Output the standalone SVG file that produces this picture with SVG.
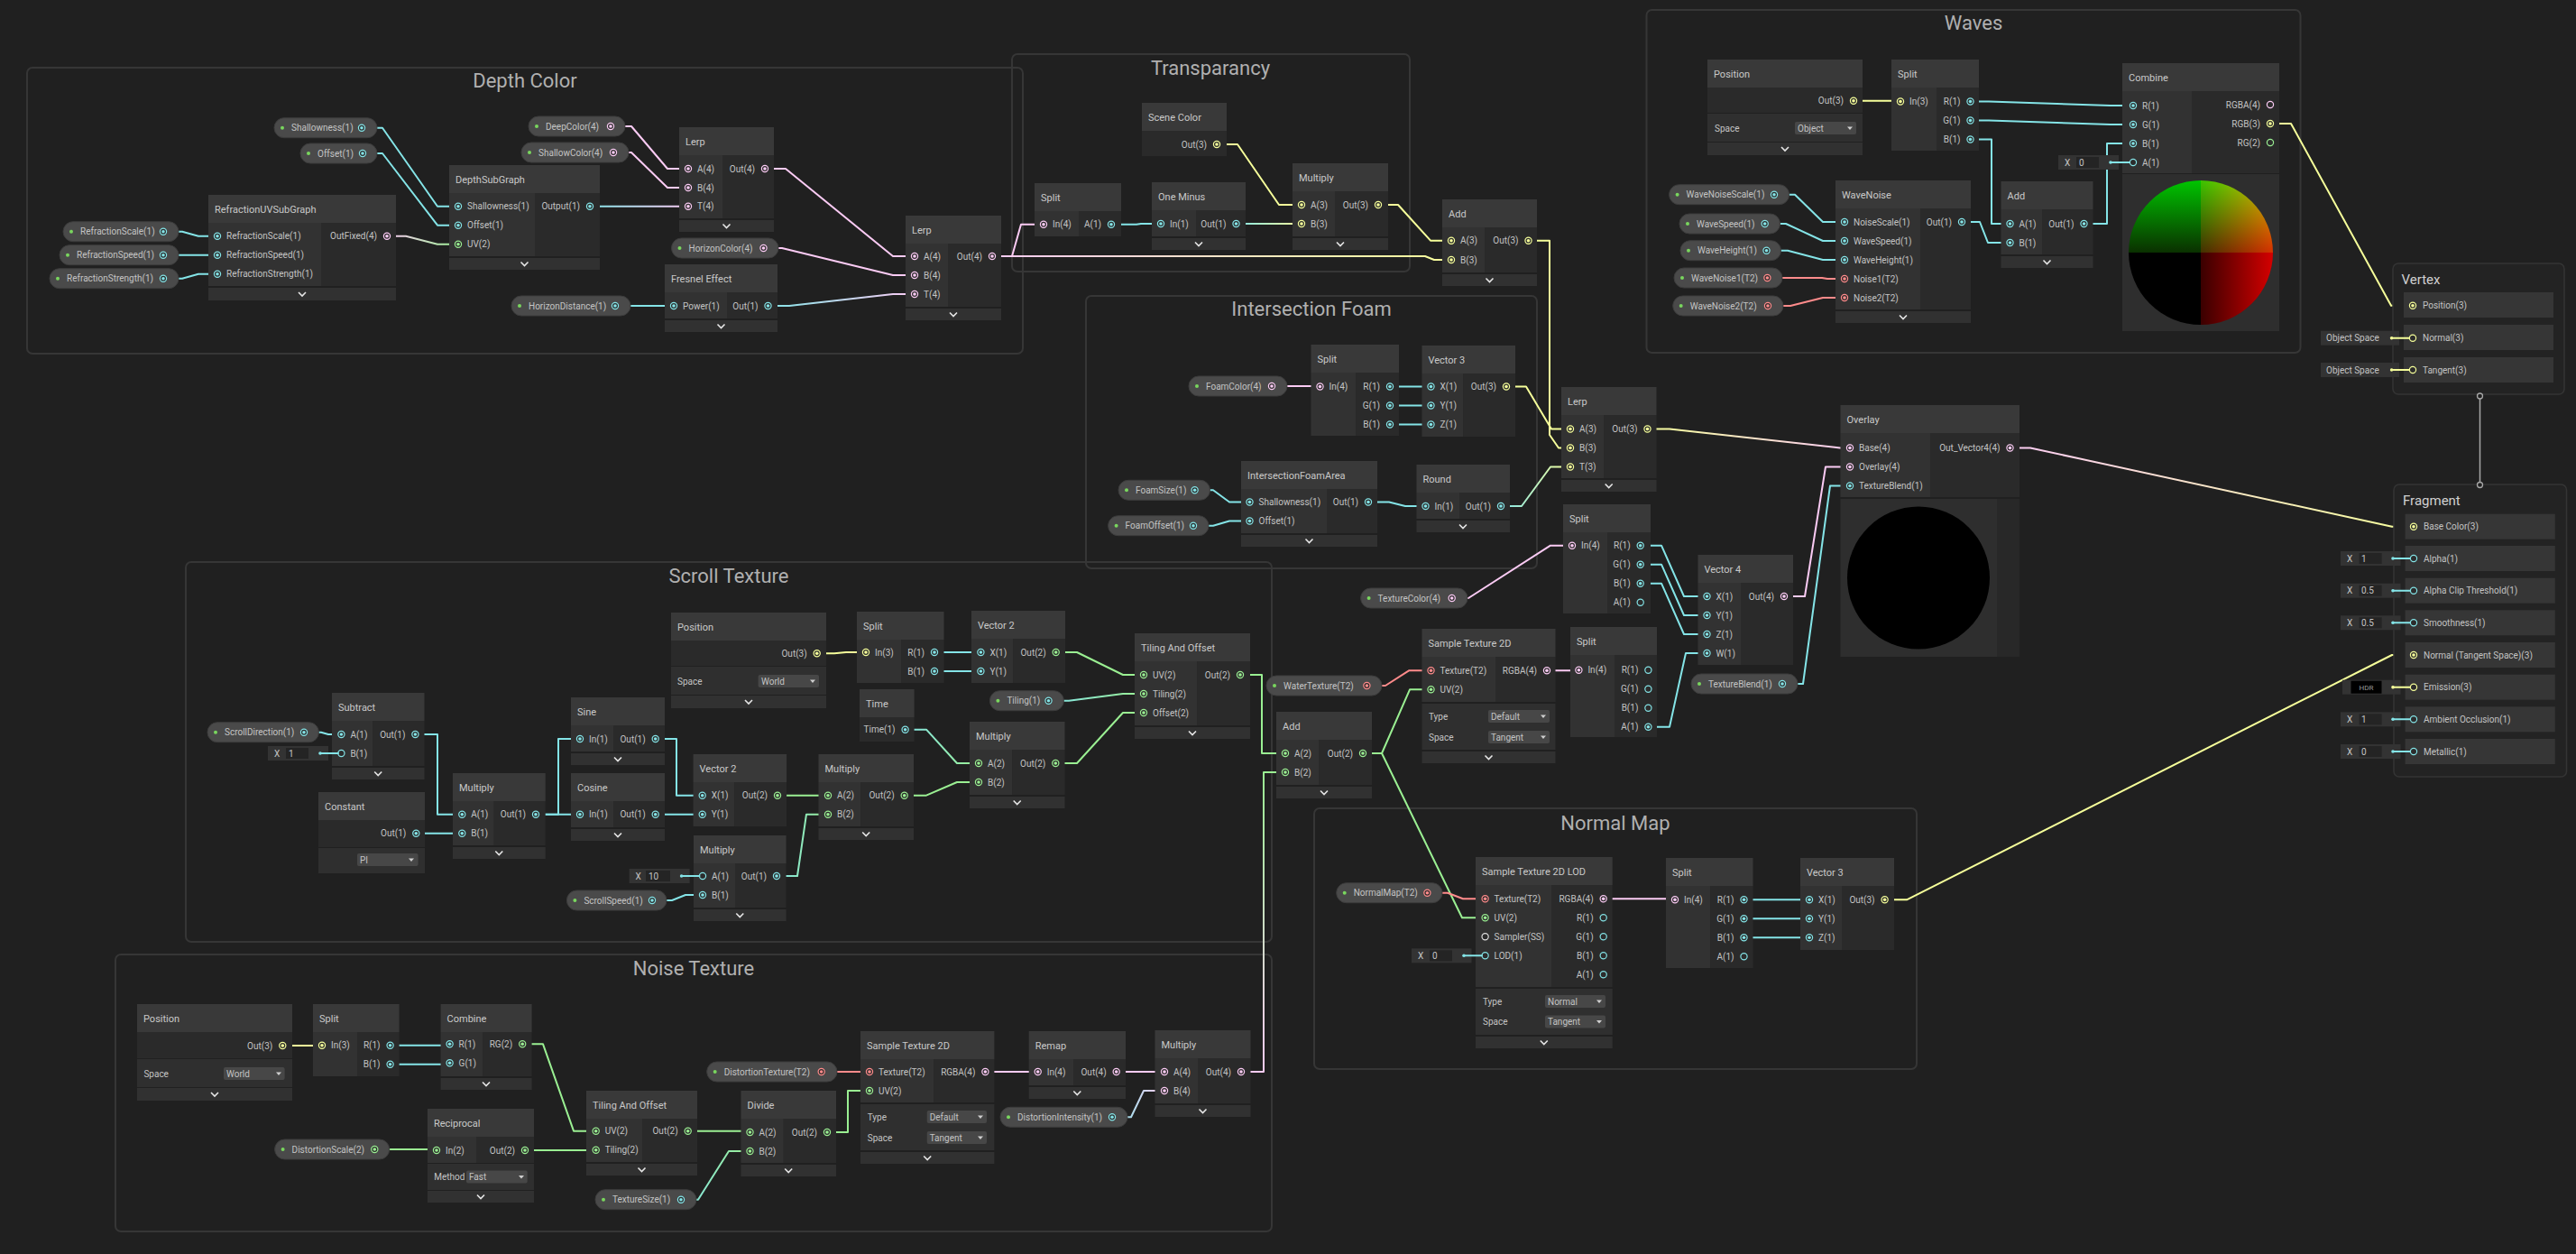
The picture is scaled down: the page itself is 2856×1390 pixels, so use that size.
<svg xmlns="http://www.w3.org/2000/svg" width="2856" height="1390" viewBox="0 0 2856 1390">
<defs>
<style>
text{font-family:Roboto,"Liberation Sans",sans-serif}
.t{font-size:11px;fill:#c9c9c9}
.p{font-size:10px;fill:#c4c4c4}
.e{text-anchor:end}
.ft{font-size:22px;fill:#b0b0b0;text-anchor:middle}
.bt{font-size:15px;fill:#d0d0d0}
.hd{fill:#393939}
.ic{fill:#323232}
.oc{fill:#2a2a2a}
.st{fill:#2f2f2f}
.cv{fill:#313131}
.pv{fill:#2e2e2e}
.pl{fill:#4a4a4a;stroke:#3c3c3c}
.dd{fill:#474747}
.bx{fill:#333}
.fd{fill:#242424}
.fr{fill:none;stroke:#363636;stroke-width:2}
.w{fill:none;stroke-width:2;stroke-linejoin:round;stroke-linecap:round}
.cy{stroke:#84E4E7}.gr{stroke:#9AEF92}.ye{stroke:#F6FF9A}.pk{stroke:#FBCBF4}.rd{stroke:#FF8B8B}
.blk{fill:#232323;stroke:#343434;stroke-width:1.5}
.row{fill:#363636}
</style>
<g id="fc"><circle r="3.6" fill="#2c2c2c" stroke="#84E4E7" stroke-width="1.2"/><circle r="1.8" fill="#84E4E7"/></g>
<g id="ec"><circle r="3.6" fill="#2c2c2c" stroke="#84E4E7" stroke-width="1.2"/></g>
<g id="fg"><circle r="3.6" fill="#2c2c2c" stroke="#9AEF92" stroke-width="1.2"/><circle r="1.8" fill="#9AEF92"/></g>
<g id="eg"><circle r="3.6" fill="#2c2c2c" stroke="#9AEF92" stroke-width="1.2"/></g>
<g id="fy"><circle r="3.6" fill="#2c2c2c" stroke="#F6FF9A" stroke-width="1.2"/><circle r="1.8" fill="#F6FF9A"/></g>
<g id="ey"><circle r="3.6" fill="#2c2c2c" stroke="#F6FF9A" stroke-width="1.2"/></g>
<g id="fp"><circle r="3.6" fill="#2c2c2c" stroke="#FBCBF4" stroke-width="1.2"/><circle r="1.8" fill="#FBCBF4"/></g>
<g id="ep"><circle r="3.6" fill="#2c2c2c" stroke="#FBCBF4" stroke-width="1.2"/></g>
<g id="fr"><circle r="3.6" fill="#2c2c2c" stroke="#FF8B8B" stroke-width="1.2"/><circle r="1.8" fill="#FF8B8B"/></g>
<g id="ew"><circle r="3.6" fill="#2c2c2c" stroke="#e0e0e0" stroke-width="1.2"/></g>
<circle id="gd" r="2" fill="#79d65e"/>
<path id="chev" d="M-4 -2 L0 2 L4 -2" fill="none" stroke="#e6e6e6" stroke-width="1.6"/>
<path id="tri" d="M-3 -1.5 H3 L0 2 Z" fill="#cfcfcf"/>
<linearGradient id="gA" gradientUnits="userSpaceOnUse" x1="429" y1="0" x2="508" y2="0"><stop offset="0" stop-color="#FBCBF4"/><stop offset="1" stop-color="#9AEF92"/></linearGradient>
<linearGradient id="gB" gradientUnits="userSpaceOnUse" x1="654" y1="0" x2="763" y2="0"><stop offset="0" stop-color="#84E4E7"/><stop offset="1" stop-color="#FBCBF4"/></linearGradient>
<linearGradient id="gC" gradientUnits="userSpaceOnUse" x1="851" y1="0" x2="1014" y2="0"><stop offset="0" stop-color="#84E4E7"/><stop offset="1" stop-color="#FBCBF4"/></linearGradient>
<linearGradient id="gD" gradientUnits="userSpaceOnUse" x1="1100" y1="0" x2="1609" y2="0"><stop offset="0" stop-color="#FBCBF4"/><stop offset="1" stop-color="#F6FF9A"/></linearGradient>
<linearGradient id="gE" gradientUnits="userSpaceOnUse" x1="1370" y1="0" x2="1443" y2="0"><stop offset="0" stop-color="#84E4E7"/><stop offset="1" stop-color="#F6FF9A"/></linearGradient>
<linearGradient id="gF" gradientUnits="userSpaceOnUse" x1="1664" y1="0" x2="1741" y2="0"><stop offset="0" stop-color="#84E4E7"/><stop offset="1" stop-color="#F6FF9A"/></linearGradient>
<linearGradient id="gG" gradientUnits="userSpaceOnUse" x1="1826" y1="0" x2="2051" y2="0"><stop offset="0" stop-color="#F6FF9A"/><stop offset="1" stop-color="#FBCBF4"/></linearGradient>
<linearGradient id="gH" gradientUnits="userSpaceOnUse" x1="2228" y1="0" x2="2676" y2="0"><stop offset="0" stop-color="#FBCBF4"/><stop offset="1" stop-color="#F6FF9A"/></linearGradient>
<linearGradient id="gI" gradientUnits="userSpaceOnUse" x1="1162" y1="0" x2="1268" y2="0"><stop offset="0" stop-color="#84E4E7"/><stop offset="1" stop-color="#9AEF92"/></linearGradient>
<linearGradient id="gJ" gradientUnits="userSpaceOnUse" x1="1003" y1="0" x2="1085" y2="0"><stop offset="0" stop-color="#84E4E7"/><stop offset="1" stop-color="#9AEF92"/></linearGradient>
<linearGradient id="gK" gradientUnits="userSpaceOnUse" x1="861" y1="0" x2="918" y2="0"><stop offset="0" stop-color="#84E4E7"/><stop offset="1" stop-color="#9AEF92"/></linearGradient>
<linearGradient id="gL" gradientUnits="userSpaceOnUse" x1="755" y1="0" x2="831" y2="0"><stop offset="0" stop-color="#84E4E7"/><stop offset="1" stop-color="#9AEF92"/></linearGradient>
<linearGradient id="gM" gradientUnits="userSpaceOnUse" x1="0" y1="1188" x2="0" y2="856"><stop offset="0" stop-color="#FBCBF4"/><stop offset="1" stop-color="#9AEF92"/></linearGradient>
<linearGradient id="gN" gradientUnits="userSpaceOnUse" x1="1233" y1="0" x2="1291" y2="0"><stop offset="0" stop-color="#84E4E7"/><stop offset="1" stop-color="#FBCBF4"/></linearGradient>
<linearGradient id="pvG" x1="0" y1="0" x2="0" y2="1"><stop offset="0" stop-color="#00c400"/><stop offset="1" stop-color="#0a3000"/></linearGradient>
<linearGradient id="pvR" x1="0" y1="0" x2="1" y2="0"><stop offset="0" stop-color="#3a0000"/><stop offset="1" stop-color="#d40000"/></linearGradient>
<clipPath id="cpC"><circle cx="2440" cy="280" r="80"/></clipPath>
</defs>
<rect x="0" y="0" width="2856" height="1390" fill="#202020"/>

<g id="frames">
<g id="frame-depth-color"><rect class="fr" x="30" y="75" width="1104" height="317" rx="6"/><text class="ft" x="582" y="97">Depth Color</text></g>
<g id="frame-transparancy"><rect class="fr" x="1122" y="60" width="441" height="241" rx="6"/><text class="ft" x="1342" y="83">Transparancy</text></g>
<g id="frame-waves"><rect class="fr" x="1825.5" y="11" width="725" height="380" rx="6"/><text class="ft" x="2188" y="33">Waves</text></g>
<g id="frame-intersection-foam"><rect class="fr" x="1204" y="328" width="500" height="302" rx="6"/><text class="ft" x="1454" y="350">Intersection Foam</text></g>
<g id="frame-scroll-texture"><rect class="fr" x="206" y="623" width="1204" height="421" rx="6"/><text class="ft" x="808" y="646">Scroll Texture</text></g>
<g id="frame-noise-texture"><rect class="fr" x="128" y="1058" width="1282" height="307" rx="6"/><text class="ft" x="769" y="1081">Noise Texture</text></g>
<g id="frame-normal-map"><rect class="fr" x="1457" y="896" width="668" height="289" rx="6"/><text class="ft" x="1791" y="920">Normal Map</text></g>
</g>

<g id="connectors">
<path class="w cy" d="M401 141.7 H424 L485 228.7 H508"/>
<path class="w cy" d="M402 170 H424 L485 249.7 H508"/>
<path class="w cy" d="M181 256.7 H202 L220 261.7 H241"/>
<path class="w cy" d="M181 282.7 H241"/>
<path class="w cy" d="M181 308.7 H202 L220 303.7 H241"/>
<path class="w" stroke="url(#gA)" d="M429 261.7 H450 L485 270.7 H508"/>
<path class="w pk" d="M677 140 H700 L740 187 H763"/>
<path class="w pk" d="M680 169 H700 L740 208 H763"/>
<path class="w" stroke="url(#gB)" d="M654 228.7 H763"/>
<path class="w cy" d="M682 339 H747"/>
<path class="w pk" d="M848 187 H871 L990 284 H1014"/>
<path class="w pk" d="M846.5 275 H867 L990 305 H1014"/>
<path class="w" stroke="url(#gC)" d="M851.5 339 H875 L990 326 H1014"/>
<path class="w pk" d="M1100 284 H1122 L1132 248.7 H1157"/>
<path class="w" stroke="url(#gD)" d="M1100 284 H1580 L1590 288 H1609"/>
<path class="w cy" d="M1232 248.7 H1260 L1265 248 H1287"/>
<path class="w" stroke="url(#gE)" d="M1370.5 248 H1443"/>
<path class="w ye" d="M1349 160 H1372 L1418 227 H1443"/>
<path class="w ye" d="M1528 227 H1550 L1586 266.7 H1609"/>
<path class="w ye" d="M1694.5 266.7 H1718 V482 L1728 496.5 H1741"/>
<path class="w ye" d="M1670 428.5 H1692 L1720 475.5 H1741"/>
<path class="w" stroke="url(#gF)" d="M1664 561 H1687 L1719 517.5 H1741"/>
<path class="w pk" d="M1410 428 H1463.5"/>
<path class="w cy" d="M1541 428.5 H1586.5"/>
<path class="w cy" d="M1541 449.5 H1586.5"/>
<path class="w cy" d="M1541 470.5 H1586.5"/>
<path class="w cy" d="M1324.6 543.3 H1345 L1363 556.5 H1385.5"/>
<path class="w cy" d="M1323 582.7 H1345 L1363 577.5 H1385.5"/>
<path class="w cy" d="M1517 556.5 H1540 L1558 561 H1580.5"/>
<path class="w" stroke="url(#gG)" d="M1826.5 475.5 H1851 L2040 496.5 H2051"/>
<path class="w pk" d="M1978 661 H2001 L2024 517.5 H2051"/>
<path class="w cy" d="M1976 758 H1999 L2029 538.5 H2051"/>
<path class="w pk" d="M1609.7 663 H1628 L1719 604.7 H1743"/>
<path class="w cy" d="M1818.7 604.7 H1842 L1867 661 H1892.5"/>
<path class="w cy" d="M1818.7 625.7 H1842 L1867 682 H1892.5"/>
<path class="w cy" d="M1818.7 646.7 H1842 L1867 703 H1892.5"/>
<path class="w cy" d="M1827.4 805.7 H1851 L1869 724 H1892.5"/>
<path class="w rd" d="M1515.4 760 H1536 L1562 743.3 H1586.5"/>
<path class="w pk" d="M1715 743.3 H1750.4"/>
<path class="w gr" d="M1511 835 H1532 L1563 764.3 H1586.5"/>
<path class="w gr" d="M1511 835 H1532 L1621 1017.3 H1646.6"/>
<path class="w" stroke="url(#gH)" d="M2228.5 496.5 H2251 L2652 583.7 H2676"/>
<path class="w ye" d="M2055 111.7 H2107"/>
<path class="w cy" d="M2184.5 112.5 H2205 L2340 117 H2365"/>
<path class="w cy" d="M2184.5 133.5 H2205 L2340 138 H2365"/>
<path class="w cy" d="M2184.5 154.5 H2208 V248 H2228.5"/>
<path class="w cy" d="M2175 246 H2195 L2204 269 H2228.5"/>
<path class="w cy" d="M2310.5 248 H2336 V159 H2365"/>
<path class="w ye" d="M2517 137 H2540 L2651 338.7 H2675"/>
<path class="w cy" d="M1967 215.7 H1990 L2021 246 H2045"/>
<path class="w cy" d="M1956.7 248 H1980 L2021 267 H2045"/>
<path class="w cy" d="M1958.5 277.7 H1982 L2021 288 H2045"/>
<path class="w rd" d="M1959.4 308 H2020 L2026 309 H2045"/>
<path class="w rd" d="M1960 339 H1985 L2021 330 H2045"/>
<path class="w ye" d="M905.7 724.3 H925 L938 723 H960"/>
<path class="w cy" d="M1036 723 H1087.4"/>
<path class="w cy" d="M1036 744 H1087.4"/>
<path class="w gr" d="M1170.7 723 H1194 L1245 748 H1268"/>
<path class="w" stroke="url(#gI)" d="M1162.5 776.7 H1185 L1245 769 H1268"/>
<path class="w gr" d="M1170.3 846 H1194 L1245 790 H1268"/>
<path class="w" stroke="url(#gJ)" d="M1003.6 808.7 H1027 L1061 846 H1085"/>
<path class="w gr" d="M1002.7 881.7 H1027 L1061 867 H1085"/>
<path class="w gr" d="M862 881.7 H918"/>
<path class="w" stroke="url(#gK)" d="M861 971 H884 L894 902.7 H918"/>
<path class="w cy" d="M723 998 H745 L760 992 H779"/>
<path class="w cy" d="M726.7 819 H750 V881.7 H778.7"/>
<path class="w cy" d="M726.7 902.7 H778.7"/>
<path class="w cy" d="M460.4 814 H485 V902.7 H512.3"/>
<path class="w cy" d="M461.3 923.7 H512.3"/>
<path class="w cy" d="M337 811.7 H356 L364 814 H378.4"/>
<path class="w cy" d="M594 902.7 H619 V819 H643"/>
<path class="w cy" d="M594 902.7 H643"/>
<path class="w gr" d="M1375 748 H1399 V835 H1425"/>
<path class="w" stroke="url(#gM)" d="M1376 1188 H1401 V856 H1425"/>
<path class="w ye" d="M313.3 1159 H357"/>
<path class="w cy" d="M432.6 1158.7 H498.6"/>
<path class="w cy" d="M432.6 1179.7 H498.6"/>
<path class="w gr" d="M579.2 1157.3 H602 L636 1253.7 H660.7"/>
<path class="w gr" d="M415.3 1274 H484"/>
<path class="w gr" d="M582 1275 H660.7"/>
<path class="w gr" d="M762.7 1253.7 H831.5"/>
<path class="w" stroke="url(#gL)" d="M755 1329.7 H774 L808 1276 H831.5"/>
<path class="w gr" d="M917 1255 H940 V1209 H964"/>
<path class="w rd" d="M910.7 1188 H964"/>
<path class="w pk" d="M1092.4 1188 H1150.7"/>
<path class="w pk" d="M1237.7 1188 H1291"/>
<path class="w" stroke="url(#gN)" d="M1233 1238.3 H1254 L1268 1209 H1291"/>
<path class="w rd" d="M1582.4 989.7 H1605 L1622 996.3 H1646.6"/>
<path class="w pk" d="M1777.7 996.3 H1857"/>
<path class="w cy" d="M1933.5 997.3 H2006"/>
<path class="w cy" d="M1933.5 1018.3 H2006"/>
<path class="w cy" d="M1933.5 1039.3 H2006"/>
<path class="w ye" d="M2089.6 997.3 H2114 L2652 726 H2676"/>
<path d="M2749.5 441 V535" stroke="#a8a8a8" stroke-width="1.5" fill="none"/>
</g>

<!-- Depth Color -->
<g id="prop-shallowness"><rect class="pl" x="304" y="130.7" width="114" height="22" rx="11"/><use href="#gd" x="313" y="141.7"/><text class="p" x="323" y="145.2">Shallowness(1)</text><use href="#fc" x="401" y="141.7"/></g>
<g id="prop-offset"><rect class="pl" x="333" y="159" width="85" height="22" rx="11"/><use href="#gd" x="342" y="170"/><text class="p" x="352" y="173.5">Offset(1)</text><use href="#fc" x="402" y="170"/></g>
<g id="prop-deepcolor"><rect class="pl" x="586" y="129" width="107" height="22" rx="11"/><use href="#gd" x="595" y="140"/><text class="p" x="605" y="143.5">DeepColor(4)</text><use href="#fp" x="677" y="140"/></g>
<g id="prop-shallowcolor"><rect class="pl" x="578" y="158" width="119" height="22" rx="11"/><use href="#gd" x="587" y="169"/><text class="p" x="597" y="172.5">ShallowColor(4)</text><use href="#fp" x="680" y="169"/></g>
<g id="prop-refractionscale"><rect class="pl" x="70" y="245.7" width="128" height="22" rx="11"/><use href="#gd" x="79" y="256.7"/><text class="p" x="89" y="260.2">RefractionScale(1)</text><use href="#fc" x="181" y="256.7"/></g>
<g id="prop-refractionspeed"><rect class="pl" x="66" y="271.7" width="132" height="22" rx="11"/><use href="#gd" x="75" y="282.7"/><text class="p" x="85" y="286.2">RefractionSpeed(1)</text><use href="#fc" x="181" y="282.7"/></g>
<g id="prop-refractionstrength"><rect class="pl" x="55" y="297.7" width="143" height="22" rx="11"/><use href="#gd" x="64" y="308.7"/><text class="p" x="74" y="312.2">RefractionStrength(1)</text><use href="#fc" x="181" y="308.7"/></g>
<g id="prop-horizondistance"><rect class="pl" x="567" y="328" width="132" height="22" rx="11"/><use href="#gd" x="576" y="339"/><text class="p" x="586" y="342.5">HorizonDistance(1)</text><use href="#fc" x="682" y="339"/></g>
<g id="prop-horizoncolor"><rect class="pl" x="744.5" y="264" width="118.5" height="22" rx="11"/><use href="#gd" x="753.5" y="275"/><text class="p" x="763.5" y="278.5">HorizonColor(4)</text><use href="#fp" x="846.5" y="275"/></g>

<g id="node-refraction-uv">
<rect class="hd" x="231" y="216" width="208" height="31"/><rect class="ic" x="231" y="247" width="125" height="70"/><rect class="oc" x="356" y="247" width="83" height="70"/><rect class="cv" x="231" y="319" width="208" height="14"/><use href="#chev" x="335" y="326"/>
<text class="t" x="238" y="235.5">RefractionUVSubGraph</text>
<use href="#fc" x="241" y="261.7"/><text class="p" x="251" y="265.2">RefractionScale(1)</text>
<use href="#fc" x="241" y="282.7"/><text class="p" x="251" y="286.2">RefractionSpeed(1)</text>
<use href="#fc" x="241" y="303.7"/><text class="p" x="251" y="307.2">RefractionStrength(1)</text>
<use href="#fp" x="429" y="261.7"/><text class="p e" x="418" y="265.2">OutFixed(4)</text>
</g>
<g id="node-depth-subgraph">
<rect class="hd" x="498" y="183" width="167" height="31"/><rect class="ic" x="498" y="214" width="95" height="70"/><rect class="oc" x="593" y="214" width="72" height="70"/><rect class="cv" x="498" y="286" width="167" height="13"/><use href="#chev" x="581.5" y="292.5"/>
<text class="t" x="505" y="202.5">DepthSubGraph</text>
<use href="#fc" x="508" y="228.7"/><text class="p" x="518" y="232.2">Shallowness(1)</text>
<use href="#fc" x="508" y="249.7"/><text class="p" x="518" y="253.2">Offset(1)</text>
<use href="#fg" x="508" y="270.7"/><text class="p" x="518" y="274.2">UV(2)</text>
<use href="#fc" x="654" y="228.7"/><text class="p e" x="643" y="232.2">Output(1)</text>
</g>
<g id="node-lerp-1">
<rect class="hd" x="753" y="141" width="105" height="31"/><rect class="ic" x="753" y="172" width="48" height="70"/><rect class="oc" x="801" y="172" width="57" height="70"/><rect class="cv" x="753" y="244" width="105" height="13"/><use href="#chev" x="805.5" y="250.5"/>
<text class="t" x="760" y="160.5">Lerp</text>
<use href="#fp" x="763" y="187"/><text class="p" x="773" y="190.5">A(4)</text>
<use href="#fp" x="763" y="208"/><text class="p" x="773" y="211.5">B(4)</text>
<use href="#fp" x="763" y="228.7"/><text class="p" x="773" y="232.2">T(4)</text>
<use href="#fp" x="848" y="187"/><text class="p e" x="837" y="190.5">Out(4)</text>
</g>
<g id="node-fresnel">
<rect class="hd" x="737" y="293" width="125" height="31"/><rect class="ic" x="737" y="324" width="69" height="29"/><rect class="oc" x="806" y="324" width="56" height="29"/><rect class="cv" x="737" y="355" width="125" height="13"/><use href="#chev" x="799.5" y="361.5"/>
<text class="t" x="744" y="312.5">Fresnel Effect</text>
<use href="#fc" x="747" y="339"/><text class="p" x="757" y="342.5">Power(1)</text>
<use href="#fc" x="851.5" y="339"/><text class="p e" x="840.5" y="342.5">Out(1)</text>
</g>
<g id="node-lerp-2">
<rect class="hd" x="1004" y="239" width="106" height="31"/><rect class="ic" x="1004" y="270" width="47" height="70"/><rect class="oc" x="1051" y="270" width="59" height="70"/><rect class="cv" x="1004" y="342" width="106" height="13"/><use href="#chev" x="1057" y="348.5"/>
<text class="t" x="1011" y="258.5">Lerp</text>
<use href="#fp" x="1014" y="284"/><text class="p" x="1024" y="287.5">A(4)</text>
<use href="#fp" x="1014" y="305"/><text class="p" x="1024" y="308.5">B(4)</text>
<use href="#fp" x="1014" y="326"/><text class="p" x="1024" y="329.5">T(4)</text>
<use href="#fp" x="1100" y="284"/><text class="p e" x="1089" y="287.5">Out(4)</text>
</g>

<!-- Transparancy -->
<g id="node-split-transp">
<rect class="hd" x="1147" y="203" width="96" height="31"/><rect class="ic" x="1147" y="234" width="49" height="28"/><rect class="oc" x="1196" y="234" width="47" height="28"/>
<text class="t" x="1154" y="222.5">Split</text>
<use href="#fp" x="1157" y="248.7"/><text class="p" x="1167" y="252.2">In(4)</text>
<use href="#fc" x="1232" y="248.7"/><text class="p e" x="1221" y="252.2">A(1)</text>
</g>
<g id="node-one-minus">
<rect class="hd" x="1277" y="202" width="104" height="31"/><rect class="ic" x="1277" y="233" width="49" height="29"/><rect class="oc" x="1326" y="233" width="55" height="29"/><rect class="cv" x="1277" y="264" width="104" height="13"/><use href="#chev" x="1329" y="270.5"/>
<text class="t" x="1284" y="221.5">One Minus</text>
<use href="#fc" x="1287" y="248"/><text class="p" x="1297" y="251.5">In(1)</text>
<use href="#fc" x="1370.5" y="248"/><text class="p e" x="1359.5" y="251.5">Out(1)</text>
</g>
<g id="node-scene-color">
<rect class="hd" x="1266" y="114" width="94" height="31"/><rect class="oc" x="1266" y="145" width="94" height="28"/>
<text class="t" x="1273" y="133.5">Scene Color</text>
<use href="#fy" x="1349" y="160"/><text class="p e" x="1338" y="163.5">Out(3)</text>
</g>
<g id="node-multiply-transp">
<rect class="hd" x="1433" y="181" width="106" height="31"/><rect class="ic" x="1433" y="212" width="47" height="50"/><rect class="oc" x="1480" y="212" width="59" height="50"/><rect class="cv" x="1433" y="264" width="106" height="13"/><use href="#chev" x="1486" y="270.5"/>
<text class="t" x="1440" y="200.5">Multiply</text>
<use href="#fy" x="1443" y="227"/><text class="p" x="1453" y="230.5">A(3)</text>
<use href="#fy" x="1443" y="248"/><text class="p" x="1453" y="251.5">B(3)</text>
<use href="#fy" x="1528" y="227"/><text class="p e" x="1517" y="230.5">Out(3)</text>
</g>
<g id="node-add-transp">
<rect class="hd" x="1599" y="221" width="105" height="31"/><rect class="ic" x="1599" y="252" width="47" height="50"/><rect class="oc" x="1646" y="252" width="58" height="50"/><rect class="cv" x="1599" y="304" width="105" height="13"/><use href="#chev" x="1651.5" y="310.5"/>
<text class="t" x="1606" y="240.5">Add</text>
<use href="#fy" x="1609" y="266.7"/><text class="p" x="1619" y="270.2">A(3)</text>
<use href="#fy" x="1609" y="288"/><text class="p" x="1619" y="291.5">B(3)</text>
<use href="#fy" x="1694.5" y="266.7"/><text class="p e" x="1683.5" y="270.2">Out(3)</text>
</g>

<!-- Waves -->
<g id="node-position-waves">
<rect class="hd" x="1893" y="66" width="172" height="31"/><rect class="oc" x="1893" y="97" width="172" height="28"/><rect class="st" x="1893" y="126" width="172" height="31"/><rect class="cv" x="1893" y="158" width="172" height="14"/><use href="#chev" x="1979" y="165"/>
<text class="t" x="1900" y="85.5">Position</text>
<use href="#fy" x="2055" y="111.7"/><text class="p e" x="2044" y="115.2">Out(3)</text>
<text class="p" x="1901" y="145.5">Space</text>
<rect class="dd" x="1990" y="135" width="68" height="14" rx="2"/><text class="p" x="1993" y="145.5">Object</text><use href="#tri" x="2051" y="142"/>
</g>
<g id="node-split-waves">
<rect class="hd" x="2097" y="66" width="97" height="31"/><rect class="ic" x="2097" y="97" width="50" height="70"/><rect class="oc" x="2147" y="97" width="47" height="70"/>
<text class="t" x="2104" y="85.5">Split</text>
<use href="#fy" x="2107" y="112.5"/><text class="p" x="2117" y="116">In(3)</text>
<use href="#fc" x="2184.5" y="112.5"/><text class="p e" x="2173.5" y="116">R(1)</text>
<use href="#fc" x="2184.5" y="133.5"/><text class="p e" x="2173.5" y="137">G(1)</text>
<use href="#fc" x="2184.5" y="154.5"/><text class="p e" x="2173.5" y="158">B(1)</text>
</g>
<g id="prop-wavenoisescale"><rect class="pl" x="1850.6" y="204.7" width="133" height="22" rx="11"/><use href="#gd" x="1859.6" y="215.7"/><text class="p" x="1869.6" y="219.2">WaveNoiseScale(1)</text><use href="#fc" x="1967" y="215.7"/></g>
<g id="prop-wavespeed"><rect class="pl" x="1862" y="237" width="111.5" height="22" rx="11"/><use href="#gd" x="1871" y="248"/><text class="p" x="1881" y="251.5">WaveSpeed(1)</text><use href="#fc" x="1956.7" y="248"/></g>
<g id="prop-waveheight"><rect class="pl" x="1863" y="266.7" width="111.5" height="22" rx="11"/><use href="#gd" x="1872" y="277.7"/><text class="p" x="1882" y="281.2">WaveHeight(1)</text><use href="#fc" x="1958.5" y="277.7"/></g>
<g id="prop-wavenoise1"><rect class="pl" x="1856" y="297" width="120" height="22" rx="11"/><use href="#gd" x="1865" y="308"/><text class="p" x="1875" y="311.5">WaveNoise1(T2)</text><use href="#fr" x="1959.4" y="308"/></g>
<g id="prop-wavenoise2"><rect class="pl" x="1854.7" y="328" width="122.3" height="22" rx="11"/><use href="#gd" x="1863.7" y="339"/><text class="p" x="1873.7" y="342.5">WaveNoise2(T2)</text><use href="#fr" x="1960" y="339"/></g>
<g id="node-wavenoise">
<rect class="hd" x="2035" y="200" width="150" height="31"/><rect class="ic" x="2035" y="231" width="94" height="112"/><rect class="oc" x="2129" y="231" width="56" height="112"/><rect class="cv" x="2035" y="345" width="150" height="13"/><use href="#chev" x="2110" y="351.5"/>
<text class="t" x="2042" y="219.5">WaveNoise</text>
<use href="#fc" x="2045" y="246"/><text class="p" x="2055" y="249.5">NoiseScale(1)</text>
<use href="#fc" x="2045" y="267"/><text class="p" x="2055" y="270.5">WaveSpeed(1)</text>
<use href="#fc" x="2045" y="288"/><text class="p" x="2055" y="291.5">WaveHeight(1)</text>
<use href="#fr" x="2045" y="309"/><text class="p" x="2055" y="312.5">Noise1(T2)</text>
<use href="#fr" x="2045" y="330"/><text class="p" x="2055" y="333.5">Noise2(T2)</text>
<use href="#fc" x="2175" y="246"/><text class="p e" x="2164" y="249.5">Out(1)</text>
</g>
<g id="node-add-waves">
<rect class="hd" x="2218.5" y="201" width="102" height="31"/><rect class="ic" x="2218.5" y="232" width="45.5" height="50"/><rect class="oc" x="2264" y="232" width="56.5" height="50"/><rect class="cv" x="2218.5" y="284" width="102" height="13"/><use href="#chev" x="2269.5" y="290.5"/>
<text class="t" x="2225.5" y="220.5">Add</text>
<use href="#fc" x="2228.5" y="248"/><text class="p" x="2238.5" y="251.5">A(1)</text>
<use href="#fc" x="2228.5" y="269"/><text class="p" x="2238.5" y="272.5">B(1)</text>
<use href="#fc" x="2310.5" y="248"/><text class="p e" x="2299.5" y="251.5">Out(1)</text>
</g>
<g id="node-combine-waves">
<rect class="hd" x="2353" y="70" width="174" height="31"/><rect class="ic" x="2353" y="101" width="77" height="91"/><rect class="oc" x="2430" y="101" width="97" height="91"/><rect class="pv" x="2353" y="193" width="174" height="174"/>
<text class="t" x="2360" y="89.5">Combine</text>
<use href="#fc" x="2365" y="117"/><text class="p" x="2375" y="120.5">R(1)</text>
<use href="#fc" x="2365" y="138"/><text class="p" x="2375" y="141.5">G(1)</text>
<use href="#fc" x="2365" y="159"/><text class="p" x="2375" y="162.5">B(1)</text>
<use href="#ec" x="2365" y="180"/><text class="p" x="2375" y="183.5">A(1)</text>
<use href="#ep" x="2517" y="116"/><text class="p e" x="2506" y="119.5">RGBA(4)</text>
<use href="#fy" x="2517" y="137"/><text class="p e" x="2506" y="140.5">RGB(3)</text>
<use href="#eg" x="2517" y="158"/><text class="p e" x="2506" y="161.5">RG(2)</text>
<rect class="bx" x="2282" y="172" width="67" height="16"/><text class="p" x="2289" y="183.5">X</text><rect class="fd" x="2302" y="174" width="25" height="12"/><text class="p" x="2305" y="183.5">0</text><circle cx="2340" cy="180" r="1.8" fill="#84E4E7"/><path class="w cy" d="M2340 180 H2361"/>
<g clip-path="url(#cpC)" style="isolation:isolate">
<rect x="2360" y="200" width="160" height="160" fill="#000"/>
<rect x="2360" y="200" width="160" height="80" fill="url(#pvG)"/>
<rect x="2440" y="200" width="80" height="160" fill="url(#pvR)" style="mix-blend-mode:screen"/>
</g>
</g>

<!-- Vertex / Fragment -->
<g id="block-vertex">
<rect class="blk" x="2653" y="292" width="190" height="145" rx="6"/>
<text class="bt" x="2662.5" y="315">Vertex</text>
<rect class="row" x="2665" y="324" width="166" height="28"/><use href="#fy" x="2675" y="338.7"/><text class="p" x="2686" y="342.2">Position(3)</text>
<rect class="row" x="2665" y="360" width="166" height="28"/><use href="#ey" x="2675" y="374.7"/><text class="p" x="2686" y="378.2">Normal(3)</text>
<rect class="row" x="2665" y="396" width="166" height="28"/><use href="#ey" x="2675" y="410"/><text class="p" x="2686" y="413.5">Tangent(3)</text>
<rect class="bx" x="2573" y="366.7" width="87" height="16"/><text class="p" x="2579" y="378.2">Object Space</text><circle cx="2651.6" cy="374.7" r="1.8" fill="#F6FF9A"/><path class="w ye" d="M2652 374.7 H2671"/>
<rect class="bx" x="2573" y="402" width="87" height="16"/><text class="p" x="2579" y="413.5">Object Space</text><circle cx="2651.6" cy="410" r="1.8" fill="#F6FF9A"/><path class="w ye" d="M2652 410 H2671"/>
<circle cx="2749.5" cy="439" r="3" fill="#202020" stroke="#a8a8a8" stroke-width="1.3"/>
</g>
<g id="block-fragment">
<rect class="blk" x="2654" y="537" width="191.5" height="324" rx="6"/>
<circle cx="2749.5" cy="537.5" r="3" fill="#202020" stroke="#a8a8a8" stroke-width="1.3"/>
<text class="bt" x="2664" y="560">Fragment</text>
<rect class="row" x="2666.6" y="569.7" width="166.2" height="28"/><use href="#fy" x="2676" y="583.7"/><text class="p" x="2687" y="587.2">Base Color(3)</text>
<rect class="row" x="2666.6" y="605" width="166.2" height="28"/><use href="#ec" x="2676" y="619"/><text class="p" x="2687" y="622.5">Alpha(1)</text>
<rect class="row" x="2666.6" y="640.7" width="166.2" height="28"/><use href="#ec" x="2676" y="654.7"/><text class="p" x="2687" y="658.2">Alpha Clip Threshold(1)</text>
<rect class="row" x="2666.6" y="676.3" width="166.2" height="28"/><use href="#ec" x="2676" y="690.3"/><text class="p" x="2687" y="693.8">Smoothness(1)</text>
<rect class="row" x="2666.6" y="712" width="166.2" height="28"/><use href="#fy" x="2676" y="726"/><text class="p" x="2687" y="729.5">Normal (Tangent Space)(3)</text>
<rect class="row" x="2666.6" y="747.7" width="166.2" height="28"/><use href="#ey" x="2676" y="761.7"/><text class="p" x="2687" y="765.2">Emission(3)</text>
<rect class="row" x="2666.6" y="783.3" width="166.2" height="28"/><use href="#ec" x="2676" y="797.3"/><text class="p" x="2687" y="800.8">Ambient Occlusion(1)</text>
<rect class="row" x="2666.6" y="819" width="166.2" height="28"/><use href="#ec" x="2676" y="833"/><text class="p" x="2687" y="836.5">Metallic(1)</text>
<rect class="bx" x="2595" y="611" width="66.6" height="16"/><text class="p" x="2602" y="622.5">X</text><rect class="fd" x="2615.6" y="613" width="25" height="12"/><text class="p" x="2618" y="622.5">1</text><circle cx="2653" cy="619" r="1.8" fill="#84E4E7"/><path class="w cy" d="M2653 619 H2672"/>
<rect class="bx" x="2595" y="646.7" width="66.6" height="16"/><text class="p" x="2602" y="658.2">X</text><rect class="fd" x="2615.6" y="648.7" width="25" height="12"/><text class="p" x="2618" y="658.2">0.5</text><circle cx="2653" cy="654.7" r="1.8" fill="#84E4E7"/><path class="w cy" d="M2653 654.7 H2672"/>
<rect class="bx" x="2595" y="682.3" width="66.6" height="16"/><text class="p" x="2602" y="693.8">X</text><rect class="fd" x="2615.6" y="684.3" width="25" height="12"/><text class="p" x="2618" y="693.8">0.5</text><circle cx="2653" cy="690.3" r="1.8" fill="#84E4E7"/><path class="w cy" d="M2653 690.3 H2672"/>
<rect class="bx" x="2597" y="753.7" width="64.6" height="16"/><rect x="2606.5" y="754.7" width="34" height="14" fill="#000"/><text x="2623.5" y="764.5" font-size="8" fill="#9a9a9a" text-anchor="middle">HDR</text><circle cx="2653" cy="761.7" r="1.8" fill="#F6FF9A"/><path class="w ye" d="M2653 761.7 H2672"/>
<rect class="bx" x="2595" y="789.3" width="66.6" height="16"/><text class="p" x="2602" y="800.8">X</text><rect class="fd" x="2615.6" y="791.3" width="25" height="12"/><text class="p" x="2618" y="800.8">1</text><circle cx="2653" cy="797.3" r="1.8" fill="#84E4E7"/><path class="w cy" d="M2653 797.3 H2672"/>
<rect class="bx" x="2595" y="825" width="66.6" height="16"/><text class="p" x="2602" y="836.5">X</text><rect class="fd" x="2615.6" y="827" width="25" height="12"/><text class="p" x="2618" y="836.5">0</text><circle cx="2653" cy="833" r="1.8" fill="#84E4E7"/><path class="w cy" d="M2653 833 H2672"/>
</g>

<!-- Intersection Foam -->
<g id="prop-foamcolor"><rect class="pl" x="1318" y="417" width="109" height="22" rx="11"/><use href="#gd" x="1327" y="428"/><text class="p" x="1337" y="431.5">FoamColor(4)</text><use href="#fp" x="1410" y="428"/></g>
<g id="node-split-foam">
<rect class="hd" x="1453.5" y="382" width="97.5" height="31"/><rect class="ic" x="1453.5" y="413" width="50" height="70"/><rect class="oc" x="1503.5" y="413" width="47.5" height="70"/>
<text class="t" x="1460.5" y="401.5">Split</text>
<use href="#fp" x="1463.5" y="428.5"/><text class="p" x="1473.5" y="432">In(4)</text>
<use href="#fc" x="1541" y="428.5"/><text class="p e" x="1530" y="432">R(1)</text>
<use href="#fc" x="1541" y="449.5"/><text class="p e" x="1530" y="453">G(1)</text>
<use href="#fc" x="1541" y="470.5"/><text class="p e" x="1530" y="474">B(1)</text>
</g>
<g id="node-vector3-foam">
<rect class="hd" x="1576.5" y="383" width="103.5" height="31"/><rect class="ic" x="1576.5" y="414" width="46" height="70"/><rect class="oc" x="1622.5" y="414" width="57.5" height="70"/>
<text class="t" x="1583.5" y="402.5">Vector 3</text>
<use href="#fc" x="1586.5" y="428.5"/><text class="p" x="1596.5" y="432">X(1)</text>
<use href="#fc" x="1586.5" y="449.5"/><text class="p" x="1596.5" y="453">Y(1)</text>
<use href="#fc" x="1586.5" y="470.5"/><text class="p" x="1596.5" y="474">Z(1)</text>
<use href="#fy" x="1670" y="428.5"/><text class="p e" x="1659" y="432">Out(3)</text>
</g>
<g id="prop-foamsize"><rect class="pl" x="1240" y="532.3" width="101.5" height="22" rx="11"/><use href="#gd" x="1249" y="543.3"/><text class="p" x="1259" y="546.8">FoamSize(1)</text><use href="#fc" x="1324.6" y="543.3"/></g>
<g id="prop-foamoffset"><rect class="pl" x="1228.6" y="571.7" width="111.4" height="22" rx="11"/><use href="#gd" x="1237.6" y="582.7"/><text class="p" x="1247.6" y="586.2">FoamOffset(1)</text><use href="#fc" x="1323" y="582.7"/></g>
<g id="node-intersection-foam-area">
<rect class="hd" x="1376" y="511" width="151" height="31"/><rect class="ic" x="1376" y="542" width="95" height="49"/><rect class="oc" x="1471" y="542" width="56" height="49"/><rect class="cv" x="1376" y="593" width="151" height="13"/><use href="#chev" x="1451.5" y="599.5"/>
<text class="t" x="1383" y="530.5">IntersectionFoamArea</text>
<use href="#fc" x="1385.5" y="556.5"/><text class="p" x="1395.5" y="560">Shallowness(1)</text>
<use href="#fc" x="1385.5" y="577.5"/><text class="p" x="1395.5" y="581">Offset(1)</text>
<use href="#fc" x="1517" y="556.5"/><text class="p e" x="1506" y="560">Out(1)</text>
</g>
<g id="node-round">
<rect class="hd" x="1570.5" y="515" width="103.5" height="31"/><rect class="ic" x="1570.5" y="546" width="47.5" height="29"/><rect class="oc" x="1618" y="546" width="56" height="29"/><rect class="cv" x="1570.5" y="577" width="103.5" height="13"/><use href="#chev" x="1622" y="583.5"/>
<text class="t" x="1577.5" y="534.5">Round</text>
<use href="#fc" x="1580.5" y="561"/><text class="p" x="1590.5" y="564.5">In(1)</text>
<use href="#fc" x="1664" y="561"/><text class="p e" x="1653" y="564.5">Out(1)</text>
</g>
<g id="node-lerp-3">
<rect class="hd" x="1731" y="429" width="105.5" height="31"/><rect class="ic" x="1731" y="460" width="47" height="70"/><rect class="oc" x="1778" y="460" width="58.5" height="70"/><rect class="cv" x="1731" y="532" width="105.5" height="13"/><use href="#chev" x="1783.7" y="538.5"/>
<text class="t" x="1738" y="448.5">Lerp</text>
<use href="#fy" x="1741" y="475.5"/><text class="p" x="1751" y="479">A(3)</text>
<use href="#fy" x="1741" y="496.5"/><text class="p" x="1751" y="500">B(3)</text>
<use href="#fy" x="1741" y="517.5"/><text class="p" x="1751" y="521">T(3)</text>
<use href="#fy" x="1826.5" y="475.5"/><text class="p e" x="1815.5" y="479">Out(3)</text>
</g>

<!-- Overlay area -->
<g id="node-overlay">
<rect class="hd" x="2040.5" y="449" width="198.5" height="31"/><rect class="ic" x="2040.5" y="480" width="99.5" height="71"/><rect class="oc" x="2140" y="480" width="99" height="71"/><rect class="pv" x="2040.5" y="553" width="173.5" height="175"/><rect fill="#282828" x="2214" y="553" width="25" height="175"/>
<text class="t" x="2047.5" y="468.5">Overlay</text>
<use href="#fp" x="2051" y="496.5"/><text class="p" x="2061" y="500">Base(4)</text>
<use href="#fp" x="2051" y="517.5"/><text class="p" x="2061" y="521">Overlay(4)</text>
<use href="#fc" x="2051" y="538.5"/><text class="p" x="2061" y="542">TextureBlend(1)</text>
<use href="#fp" x="2228.5" y="496.5"/><text class="p e" x="2217.5" y="500">Out_Vector4(4)</text>
<circle cx="2127" cy="640.5" r="79" fill="#000"/>
</g>
<g id="prop-texturecolor"><rect class="pl" x="1508.6" y="652" width="118.4" height="22" rx="11"/><use href="#gd" x="1517.6" y="663"/><text class="p" x="1527.6" y="666.5">TextureColor(4)</text><use href="#fp" x="1609.7" y="663"/></g>
<g id="node-split-texcolor">
<rect class="hd" x="1733" y="559" width="97" height="31"/><rect class="ic" x="1733" y="590" width="49" height="90"/><rect class="oc" x="1782" y="590" width="48" height="90"/>
<text class="t" x="1740" y="578.5">Split</text>
<use href="#fp" x="1743" y="604.7"/><text class="p" x="1753" y="608.2">In(4)</text>
<use href="#fc" x="1818.7" y="604.7"/><text class="p e" x="1807.7" y="608.2">R(1)</text>
<use href="#fc" x="1818.7" y="625.7"/><text class="p e" x="1807.7" y="629.2">G(1)</text>
<use href="#fc" x="1818.7" y="646.7"/><text class="p e" x="1807.7" y="650.2">B(1)</text>
<use href="#ec" x="1818.7" y="667.7"/><text class="p e" x="1807.7" y="671.2">A(1)</text>
</g>
<g id="node-vector4">
<rect class="hd" x="1882.5" y="615" width="105.5" height="31"/><rect class="ic" x="1882.5" y="646" width="47.5" height="91"/><rect class="oc" x="1930" y="646" width="58" height="91"/>
<text class="t" x="1889.5" y="634.5">Vector 4</text>
<use href="#fc" x="1892.5" y="661"/><text class="p" x="1902.5" y="664.5">X(1)</text>
<use href="#fc" x="1892.5" y="682"/><text class="p" x="1902.5" y="685.5">Y(1)</text>
<use href="#fc" x="1892.5" y="703"/><text class="p" x="1902.5" y="706.5">Z(1)</text>
<use href="#fc" x="1892.5" y="724"/><text class="p" x="1902.5" y="727.5">W(1)</text>
<use href="#fp" x="1978" y="661"/><text class="p e" x="1967" y="664.5">Out(4)</text>
</g>
<g id="prop-textureblend"><rect class="pl" x="1875" y="747" width="118" height="22" rx="11"/><use href="#gd" x="1884" y="758"/><text class="p" x="1894" y="761.5">TextureBlend(1)</text><use href="#fc" x="1976" y="758"/></g>
<g id="prop-watertexture"><rect class="pl" x="1404" y="749" width="128" height="22" rx="11"/><use href="#gd" x="1413" y="760"/><text class="p" x="1423" y="763.5">WaterTexture(T2)</text><use href="#fr" x="1515.4" y="760"/></g>
<g id="node-sample-texture-scroll">
<rect class="hd" x="1576.5" y="697" width="148" height="31"/><rect class="ic" x="1576.5" y="728" width="81.5" height="50"/><rect class="oc" x="1658" y="728" width="66.5" height="50"/><rect class="st" x="1576.5" y="780" width="148" height="51"/><rect class="cv" x="1576.5" y="833" width="148" height="13"/><use href="#chev" x="1650.5" y="839.5"/>
<text class="t" x="1583.5" y="716.5">Sample Texture 2D</text>
<use href="#fr" x="1586.5" y="743.3"/><text class="p" x="1596.5" y="746.8">Texture(T2)</text>
<use href="#fg" x="1586.5" y="764.3"/><text class="p" x="1596.5" y="767.8">UV(2)</text>
<use href="#fp" x="1715" y="743.3"/><text class="p e" x="1704" y="746.8">RGBA(4)</text>
<text class="p" x="1584" y="797.5">Type</text><rect class="dd" x="1650" y="787" width="68" height="14" rx="2"/><text class="p" x="1653" y="797.5">Default</text><use href="#tri" x="1711" y="794"/>
<text class="p" x="1584" y="820.5">Space</text><rect class="dd" x="1650" y="810" width="68" height="14" rx="2"/><text class="p" x="1653" y="820.5">Tangent</text><use href="#tri" x="1711" y="817"/>
</g>
<g id="node-split-water">
<rect class="hd" x="1741" y="695" width="96" height="31"/><rect class="ic" x="1741" y="726" width="49" height="91"/><rect class="oc" x="1790" y="726" width="47" height="91"/>
<text class="t" x="1748" y="714.5">Split</text>
<use href="#fp" x="1750.4" y="742.7"/><text class="p" x="1760.4" y="746.2">In(4)</text>
<use href="#ec" x="1827.4" y="742.7"/><text class="p e" x="1816.4" y="746.2">R(1)</text>
<use href="#ec" x="1827.4" y="763.7"/><text class="p e" x="1816.4" y="767.2">G(1)</text>
<use href="#ec" x="1827.4" y="784.7"/><text class="p e" x="1816.4" y="788.2">B(1)</text>
<use href="#fc" x="1827.4" y="805.7"/><text class="p e" x="1816.4" y="809.2">A(1)</text>
</g>
<g id="node-add-scroll">
<rect class="hd" x="1415" y="789" width="106" height="31"/><rect class="ic" x="1415" y="820" width="47" height="50"/><rect class="oc" x="1462" y="820" width="59" height="50"/><rect class="cv" x="1415" y="872" width="106" height="13"/><use href="#chev" x="1468" y="878.5"/>
<text class="t" x="1422" y="808.5">Add</text>
<use href="#fg" x="1425" y="835"/><text class="p" x="1435" y="838.5">A(2)</text>
<use href="#fg" x="1425" y="856"/><text class="p" x="1435" y="859.5">B(2)</text>
<use href="#fg" x="1511" y="835"/><text class="p e" x="1500" y="838.5">Out(2)</text>
</g>

<!-- Scroll Texture -->
<g id="prop-scrolldirection"><rect class="pl" x="230" y="800.7" width="123.4" height="22" rx="11"/><use href="#gd" x="239" y="811.7"/><text class="p" x="249" y="815.2">ScrollDirection(1)</text><use href="#fc" x="337" y="811.7"/></g>
<g id="node-subtract">
<rect class="hd" x="368" y="768" width="102.5" height="31"/><rect class="ic" x="368" y="799" width="45.5" height="50"/><rect class="oc" x="413.5" y="799" width="57" height="50"/><rect class="cv" x="368" y="851" width="102.5" height="13"/><use href="#chev" x="419.2" y="857.5"/>
<text class="t" x="375" y="787.5">Subtract</text>
<use href="#fc" x="378.4" y="814"/><text class="p" x="388.4" y="817.5">A(1)</text>
<use href="#ec" x="378.4" y="835"/><text class="p" x="388.4" y="838.5">B(1)</text>
<use href="#fc" x="460.4" y="814"/><text class="p e" x="449.4" y="817.5">Out(1)</text>
<rect class="bx" x="297" y="827" width="67" height="16"/><text class="p" x="304" y="838.5">X</text><rect class="fd" x="317" y="829" width="25" height="12"/><text class="p" x="320" y="838.5">1</text><circle cx="355" cy="835" r="1.8" fill="#84E4E7"/><path class="w cy" d="M355 835 H375"/>
</g>
<g id="node-constant">
<rect class="hd" x="353" y="878" width="118" height="31"/><rect class="oc" x="353" y="909" width="118" height="30"/><rect class="st" x="353" y="940" width="118" height="28"/>
<text class="t" x="360" y="897.5">Constant</text>
<use href="#fc" x="461.3" y="923.7"/><text class="p e" x="450.3" y="927.2">Out(1)</text>
<rect class="dd" x="396" y="946" width="67.6" height="14" rx="2"/><text class="p" x="399" y="956.5">PI</text><use href="#tri" x="456" y="953"/>
</g>
<g id="node-multiply-a">
<rect class="hd" x="502" y="857" width="102.7" height="31"/><rect class="ic" x="502" y="888" width="45.8" height="49"/><rect class="oc" x="547.8" y="888" width="56.9" height="49"/><rect class="cv" x="502" y="939" width="102.7" height="13"/><use href="#chev" x="553.3" y="945.5"/>
<text class="t" x="509" y="876.5">Multiply</text>
<use href="#fc" x="512.3" y="902.7"/><text class="p" x="522.3" y="906.2">A(1)</text>
<use href="#fc" x="512.3" y="923.7"/><text class="p" x="522.3" y="927.2">B(1)</text>
<use href="#fc" x="594" y="902.7"/><text class="p e" x="583" y="906.2">Out(1)</text>
</g>
<g id="node-sine">
<rect class="hd" x="633" y="773" width="104" height="31"/><rect class="ic" x="633" y="804" width="47" height="29"/><rect class="oc" x="680" y="804" width="57" height="29"/><rect class="cv" x="633" y="835" width="104" height="13"/><use href="#chev" x="685" y="841.5"/>
<text class="t" x="640" y="792.5">Sine</text>
<use href="#fc" x="643" y="819"/><text class="p" x="653" y="822.5">In(1)</text>
<use href="#fc" x="726.7" y="819"/><text class="p e" x="715.7" y="822.5">Out(1)</text>
</g>
<g id="node-cosine">
<rect class="hd" x="633" y="857" width="104" height="31"/><rect class="ic" x="633" y="888" width="47" height="29"/><rect class="oc" x="680" y="888" width="57" height="29"/><rect class="cv" x="633" y="919" width="104" height="13"/><use href="#chev" x="685" y="925.5"/>
<text class="t" x="640" y="876.5">Cosine</text>
<use href="#fc" x="643" y="902.7"/><text class="p" x="653" y="906.2">In(1)</text>
<use href="#fc" x="726.7" y="902.7"/><text class="p e" x="715.7" y="906.2">Out(1)</text>
</g>
<g id="node-vector2-lower">
<rect class="hd" x="768.6" y="836" width="103.5" height="31"/><rect class="ic" x="768.6" y="867" width="46" height="49"/><rect class="oc" x="814.6" y="867" width="57.5" height="49"/>
<text class="t" x="775.6" y="855.5">Vector 2</text>
<use href="#fc" x="778.7" y="881.7"/><text class="p" x="788.7" y="885.2">X(1)</text>
<use href="#fc" x="778.7" y="902.7"/><text class="p" x="788.7" y="906.2">Y(1)</text>
<use href="#fg" x="862" y="881.7"/><text class="p e" x="851" y="885.2">Out(2)</text>
</g>
<g id="node-multiply-lower">
<rect class="hd" x="907.5" y="836" width="105.5" height="31"/><rect class="ic" x="907.5" y="867" width="47" height="49"/><rect class="oc" x="954.5" y="867" width="58.5" height="49"/><rect class="cv" x="907.5" y="918" width="105.5" height="13"/><use href="#chev" x="960.2" y="924.5"/>
<text class="t" x="914.5" y="855.5">Multiply</text>
<use href="#fg" x="918" y="881.7"/><text class="p" x="928" y="885.2">A(2)</text>
<use href="#fg" x="918" y="902.7"/><text class="p" x="928" y="906.2">B(2)</text>
<use href="#fg" x="1002.7" y="881.7"/><text class="p e" x="991.7" y="885.2">Out(2)</text>
</g>
<g id="node-multiply-x10">
<rect class="hd" x="769" y="926" width="102.6" height="31"/><rect class="ic" x="769" y="957" width="46" height="49"/><rect class="oc" x="815" y="957" width="56.6" height="49"/><rect class="cv" x="769" y="1008" width="102.6" height="13"/><use href="#chev" x="820.3" y="1014.5"/>
<text class="t" x="776" y="945.5">Multiply</text>
<use href="#ec" x="779" y="971"/><text class="p" x="789" y="974.5">A(1)</text>
<use href="#fc" x="779" y="992"/><text class="p" x="789" y="995.5">B(1)</text>
<use href="#fc" x="861" y="971"/><text class="p e" x="850" y="974.5">Out(1)</text>
<rect class="bx" x="697.6" y="963" width="67" height="16"/><text class="p" x="704.6" y="974.5">X</text><rect class="fd" x="716" y="965" width="27" height="12"/><text class="p" x="719" y="974.5">10</text><circle cx="755.6" cy="971" r="1.8" fill="#84E4E7"/><path class="w cy" d="M755.6 971 H775.5"/>
</g>
<g id="prop-scrollspeed"><rect class="pl" x="628.4" y="987" width="110.6" height="22" rx="11"/><use href="#gd" x="637.4" y="998"/><text class="p" x="647.4" y="1001.5">ScrollSpeed(1)</text><use href="#fc" x="723" y="998"/></g>
<g id="node-position-scroll">
<rect class="hd" x="744" y="679" width="172" height="31"/><rect class="oc" x="744" y="710" width="172" height="28"/><rect class="st" x="744" y="739" width="172" height="31"/><rect class="cv" x="744" y="771" width="172" height="14"/><use href="#chev" x="830" y="778"/>
<text class="t" x="751" y="698.5">Position</text>
<use href="#fy" x="905.7" y="724.3"/><text class="p e" x="894.7" y="727.8">Out(3)</text>
<text class="p" x="751" y="758.5">Space</text>
<rect class="dd" x="840.6" y="748" width="67.4" height="14" rx="2"/><text class="p" x="844" y="758.5">World</text><use href="#tri" x="901" y="755"/>
</g>
<g id="node-split-scroll">
<rect class="hd" x="950" y="678" width="96.5" height="31"/><rect class="ic" x="950" y="709" width="49.5" height="48"/><rect class="oc" x="999.5" y="709" width="47" height="48"/>
<text class="t" x="957" y="697.5">Split</text>
<use href="#fy" x="960" y="723"/><text class="p" x="970" y="726.5">In(3)</text>
<use href="#fc" x="1036" y="723"/><text class="p e" x="1025" y="726.5">R(1)</text>
<use href="#fc" x="1036" y="744"/><text class="p e" x="1025" y="747.5">B(1)</text>
</g>
<g id="node-vector2-top">
<rect class="hd" x="1077" y="677" width="104" height="31"/><rect class="ic" x="1077" y="708" width="46.5" height="49"/><rect class="oc" x="1123.5" y="708" width="57.5" height="49"/>
<text class="t" x="1084" y="696.5">Vector 2</text>
<use href="#fc" x="1087.4" y="723"/><text class="p" x="1097.4" y="726.5">X(1)</text>
<use href="#fc" x="1087.4" y="744"/><text class="p" x="1097.4" y="747.5">Y(1)</text>
<use href="#fg" x="1170.7" y="723"/><text class="p e" x="1159.7" y="726.5">Out(2)</text>
</g>
<g id="node-time">
<rect class="hd" x="953" y="764" width="60.6" height="31"/><rect class="oc" x="953" y="795" width="60.6" height="27"/>
<text class="t" x="960" y="783.5">Time</text>
<use href="#fc" x="1003.6" y="808.7"/><text class="p e" x="992.6" y="812.2">Time(1)</text>
</g>
<g id="prop-tiling"><rect class="pl" x="1097.4" y="765.7" width="82" height="22" rx="11"/><use href="#gd" x="1106.4" y="776.7"/><text class="p" x="1116.4" y="780.2">Tiling(1)</text><use href="#fc" x="1162.5" y="776.7"/></g>
<g id="node-multiply-mid">
<rect class="hd" x="1075" y="800" width="105.5" height="31"/><rect class="ic" x="1075" y="831" width="47.5" height="50"/><rect class="oc" x="1122.5" y="831" width="58" height="50"/><rect class="cv" x="1075" y="883" width="105.5" height="13"/><use href="#chev" x="1127.7" y="889.5"/>
<text class="t" x="1082" y="819.5">Multiply</text>
<use href="#fg" x="1085" y="846"/><text class="p" x="1095" y="849.5">A(2)</text>
<use href="#fg" x="1085" y="867"/><text class="p" x="1095" y="870.5">B(2)</text>
<use href="#fg" x="1170.3" y="846"/><text class="p e" x="1159.3" y="849.5">Out(2)</text>
</g>
<g id="node-tiling-offset-scroll">
<rect class="hd" x="1258" y="702" width="128" height="31"/><rect class="ic" x="1258" y="733" width="69.5" height="71"/><rect class="oc" x="1327.5" y="733" width="58.5" height="71"/><rect class="cv" x="1258" y="806" width="128" height="13"/><use href="#chev" x="1322" y="812.5"/>
<text class="t" x="1265" y="721.5">Tiling And Offset</text>
<use href="#fg" x="1268" y="748"/><text class="p" x="1278" y="751.5">UV(2)</text>
<use href="#fg" x="1268" y="769"/><text class="p" x="1278" y="772.5">Tiling(2)</text>
<use href="#fg" x="1268" y="790"/><text class="p" x="1278" y="793.5">Offset(2)</text>
<use href="#fg" x="1375" y="748"/><text class="p e" x="1364" y="751.5">Out(2)</text>
</g>

<!-- Noise Texture -->
<g id="node-position-noise">
<rect class="hd" x="152" y="1113" width="172" height="31"/><rect class="oc" x="152" y="1144" width="172" height="29"/><rect class="st" x="152" y="1174" width="172" height="31"/><rect class="cv" x="152" y="1206" width="172" height="14"/><use href="#chev" x="238" y="1213"/>
<text class="t" x="159" y="1132.5">Position</text>
<use href="#fy" x="313.3" y="1159"/><text class="p e" x="302.3" y="1162.5">Out(3)</text>
<text class="p" x="159.4" y="1193.5">Space</text>
<rect class="dd" x="248" y="1183" width="67.6" height="14" rx="2"/><text class="p" x="251" y="1193.5">World</text><use href="#tri" x="309" y="1190"/>
</g>
<g id="node-split-noise">
<rect class="hd" x="347" y="1113" width="95.6" height="31"/><rect class="ic" x="347" y="1144" width="49" height="49"/><rect class="oc" x="396" y="1144" width="46.6" height="49"/>
<text class="t" x="354" y="1132.5">Split</text>
<use href="#fy" x="357" y="1158.7"/><text class="p" x="367" y="1162.2">In(3)</text>
<use href="#fc" x="432.6" y="1158.7"/><text class="p e" x="421.6" y="1162.2">R(1)</text>
<use href="#fc" x="432.6" y="1179.7"/><text class="p e" x="421.6" y="1183.2">B(1)</text>
</g>
<g id="node-combine-noise">
<rect class="hd" x="488.6" y="1113" width="101" height="31"/><rect class="ic" x="488.6" y="1144" width="46.4" height="49"/><rect class="oc" x="535" y="1144" width="54.6" height="49"/><rect class="cv" x="488.6" y="1195" width="101" height="13"/><use href="#chev" x="539" y="1201.5"/>
<text class="t" x="495.6" y="1132.5">Combine</text>
<use href="#fc" x="498.6" y="1157.3"/><text class="p" x="508.6" y="1160.8">R(1)</text>
<use href="#fc" x="498.6" y="1178.3"/><text class="p" x="508.6" y="1181.8">G(1)</text>
<use href="#fg" x="579.2" y="1157.3"/><text class="p e" x="568.2" y="1160.8">RG(2)</text>
</g>
<g id="prop-distortionscale"><rect class="pl" x="304.6" y="1263" width="127.1" height="22" rx="11"/><use href="#gd" x="313.6" y="1274"/><text class="p" x="323.6" y="1277.5">DistortionScale(2)</text><use href="#fg" x="415.3" y="1274"/></g>
<g id="node-reciprocal">
<rect class="hd" x="474" y="1229" width="118" height="31"/><rect class="ic" x="474" y="1260" width="54" height="29"/><rect class="oc" x="528" y="1260" width="64" height="29"/><rect class="st" x="474" y="1290" width="118" height="29"/><rect class="cv" x="474" y="1320" width="118" height="13"/><use href="#chev" x="533" y="1326.5"/>
<text class="t" x="481" y="1248.5">Reciprocal</text>
<use href="#fg" x="484" y="1275"/><text class="p" x="494" y="1278.5">In(2)</text>
<use href="#fg" x="582" y="1275"/><text class="p e" x="571" y="1278.5">Out(2)</text>
<text class="p" x="481.3" y="1307.5">Method</text>
<rect class="dd" x="517" y="1297.5" width="67.7" height="14" rx="2"/><text class="p" x="520" y="1308">Fast</text><use href="#tri" x="578" y="1304.5"/>
</g>
<g id="node-tiling-offset-noise">
<rect class="hd" x="650" y="1209" width="123" height="31"/><rect class="ic" x="650" y="1240" width="62" height="48"/><rect class="oc" x="712" y="1240" width="61" height="48"/><rect class="cv" x="650" y="1290" width="123" height="13"/><use href="#chev" x="711.5" y="1296.5"/>
<text class="t" x="657" y="1228.5">Tiling And Offset</text>
<use href="#fg" x="660.7" y="1253.7"/><text class="p" x="670.7" y="1257.2">UV(2)</text>
<use href="#fg" x="660.7" y="1274.7"/><text class="p" x="670.7" y="1278.2">Tiling(2)</text>
<use href="#fg" x="762.7" y="1253.7"/><text class="p e" x="751.7" y="1257.2">Out(2)</text>
</g>
<g id="prop-texturesize"><rect class="pl" x="660" y="1318.7" width="112" height="22" rx="11"/><use href="#gd" x="669" y="1329.7"/><text class="p" x="679" y="1333.2">TextureSize(1)</text><use href="#fc" x="755" y="1329.7"/></g>
<g id="node-divide">
<rect class="hd" x="821.5" y="1209" width="105.5" height="31"/><rect class="ic" x="821.5" y="1240" width="47.3" height="49"/><rect class="oc" x="868.8" y="1240" width="58.2" height="49"/><rect class="cv" x="821.5" y="1291" width="105.5" height="13"/><use href="#chev" x="874.2" y="1297.5"/>
<text class="t" x="828.5" y="1228.5">Divide</text>
<use href="#fg" x="831.5" y="1255"/><text class="p" x="841.5" y="1258.5">A(2)</text>
<use href="#fg" x="831.5" y="1276"/><text class="p" x="841.5" y="1279.5">B(2)</text>
<use href="#fg" x="917" y="1255"/><text class="p e" x="906" y="1258.5">Out(2)</text>
</g>
<g id="prop-distortiontexture"><rect class="pl" x="783.7" y="1177" width="144.3" height="22" rx="11"/><use href="#gd" x="792.7" y="1188"/><text class="p" x="802.7" y="1191.5">DistortionTexture(T2)</text><use href="#fr" x="910.7" y="1188"/></g>
<g id="node-sample-texture-noise">
<rect class="hd" x="954" y="1143" width="148.4" height="31"/><rect class="ic" x="954" y="1174" width="81.5" height="48"/><rect class="oc" x="1035.5" y="1174" width="66.9" height="48"/><rect class="st" x="954" y="1224" width="148.4" height="51"/><rect class="cv" x="954" y="1277" width="148.4" height="13"/><use href="#chev" x="1028.2" y="1283.5"/>
<text class="t" x="961" y="1162.5">Sample Texture 2D</text>
<use href="#fr" x="964" y="1188"/><text class="p" x="974" y="1191.5">Texture(T2)</text>
<use href="#fg" x="964" y="1209"/><text class="p" x="974" y="1212.5">UV(2)</text>
<use href="#fp" x="1092.4" y="1188"/><text class="p e" x="1081.4" y="1191.5">RGBA(4)</text>
<text class="p" x="961.7" y="1241.5">Type</text><rect class="dd" x="1027.7" y="1231" width="66.3" height="14" rx="2"/><text class="p" x="1030.7" y="1241.5">Default</text><use href="#tri" x="1087" y="1238"/>
<text class="p" x="961.7" y="1264.5">Space</text><rect class="dd" x="1027.7" y="1254" width="66.3" height="14" rx="2"/><text class="p" x="1030.7" y="1264.5">Tangent</text><use href="#tri" x="1087" y="1261"/>
</g>
<g id="node-remap">
<rect class="hd" x="1140.7" y="1143" width="107.3" height="31"/><rect class="ic" x="1140.7" y="1174" width="49.3" height="29"/><rect class="oc" x="1190" y="1174" width="58" height="29"/><rect class="cv" x="1140.7" y="1205" width="107.3" height="13"/><use href="#chev" x="1194.3" y="1211.5"/>
<text class="t" x="1147.7" y="1162.5">Remap</text>
<use href="#fp" x="1150.7" y="1188"/><text class="p" x="1160.7" y="1191.5">In(4)</text>
<use href="#fp" x="1237.7" y="1188"/><text class="p e" x="1226.7" y="1191.5">Out(4)</text>
</g>
<g id="node-multiply-noise">
<rect class="hd" x="1280.5" y="1142" width="106" height="31"/><rect class="ic" x="1280.5" y="1173" width="47.5" height="50"/><rect class="oc" x="1328" y="1173" width="58.5" height="50"/><rect class="cv" x="1280.5" y="1225" width="106" height="13"/><use href="#chev" x="1333.5" y="1231.5"/>
<text class="t" x="1287.5" y="1161.5">Multiply</text>
<use href="#fp" x="1291" y="1188"/><text class="p" x="1301" y="1191.5">A(4)</text>
<use href="#fp" x="1291" y="1209"/><text class="p" x="1301" y="1212.5">B(4)</text>
<use href="#fp" x="1376" y="1188"/><text class="p e" x="1365" y="1191.5">Out(4)</text>
</g>
<g id="prop-distortionintensity"><rect class="pl" x="1109" y="1227.3" width="141" height="22" rx="11"/><use href="#gd" x="1118" y="1238.3"/><text class="p" x="1128" y="1241.8">DistortionIntensity(1)</text><use href="#fc" x="1233" y="1238.3"/></g>

<!-- Normal Map -->
<g id="prop-normalmap"><rect class="pl" x="1481.7" y="978.7" width="117.3" height="22" rx="11"/><use href="#gd" x="1490.7" y="989.7"/><text class="p" x="1500.7" y="993.2">NormalMap(T2)</text><use href="#fr" x="1582.4" y="989.7"/></g>
<g id="node-sample-texture-lod">
<rect class="hd" x="1636" y="950" width="151.7" height="31"/><rect class="ic" x="1636" y="981" width="84" height="113"/><rect class="oc" x="1720" y="981" width="67.7" height="113"/><rect class="st" x="1636" y="1096" width="151.7" height="51"/><rect class="cv" x="1636" y="1149" width="151.7" height="13"/><use href="#chev" x="1711.8" y="1155.5"/>
<text class="t" x="1643" y="969.5">Sample Texture 2D LOD</text>
<use href="#fr" x="1646.6" y="996.3"/><text class="p" x="1656.6" y="999.8">Texture(T2)</text>
<use href="#fg" x="1646.6" y="1017.3"/><text class="p" x="1656.6" y="1020.8">UV(2)</text>
<use href="#ew" x="1646.6" y="1038.3"/><text class="p" x="1656.6" y="1041.8">Sampler(SS)</text>
<use href="#ec" x="1646.6" y="1059.3"/><text class="p" x="1656.6" y="1062.8">LOD(1)</text>
<use href="#fp" x="1777.7" y="996.3"/><text class="p e" x="1766.7" y="999.8">RGBA(4)</text>
<use href="#ec" x="1777.7" y="1017.3"/><text class="p e" x="1766.7" y="1020.8">R(1)</text>
<use href="#ec" x="1777.7" y="1038.3"/><text class="p e" x="1766.7" y="1041.8">G(1)</text>
<use href="#ec" x="1777.7" y="1059.3"/><text class="p e" x="1766.7" y="1062.8">B(1)</text>
<use href="#ec" x="1777.7" y="1080.3"/><text class="p e" x="1766.7" y="1083.8">A(1)</text>
<text class="p" x="1644" y="1113.5">Type</text><rect class="dd" x="1713" y="1103" width="67" height="14" rx="2"/><text class="p" x="1716" y="1113.5">Normal</text><use href="#tri" x="1773" y="1110"/>
<text class="p" x="1644" y="1136">Space</text><rect class="dd" x="1713" y="1125.5" width="67" height="14" rx="2"/><text class="p" x="1716" y="1136">Tangent</text><use href="#tri" x="1773" y="1132.5"/>
<rect class="bx" x="1565" y="1051.3" width="66.5" height="16"/><text class="p" x="1572" y="1062.8">X</text><rect class="fd" x="1585" y="1053.3" width="25" height="12"/><text class="p" x="1588" y="1062.8">0</text><circle cx="1623" cy="1059.3" r="1.8" fill="#84E4E7"/><path class="w cy" d="M1623 1059.3 H1643"/>
</g>
<g id="node-split-normal">
<rect class="hd" x="1847" y="951" width="96.5" height="31"/><rect class="ic" x="1847" y="982" width="49.6" height="91"/><rect class="oc" x="1896.6" y="982" width="46.9" height="91"/>
<text class="t" x="1854" y="970.5">Split</text>
<use href="#fp" x="1857" y="997.3"/><text class="p" x="1867" y="1000.8">In(4)</text>
<use href="#fc" x="1933.5" y="997.3"/><text class="p e" x="1922.5" y="1000.8">R(1)</text>
<use href="#fc" x="1933.5" y="1018.3"/><text class="p e" x="1922.5" y="1021.8">G(1)</text>
<use href="#fc" x="1933.5" y="1039.3"/><text class="p e" x="1922.5" y="1042.8">B(1)</text>
<use href="#ec" x="1933.5" y="1060.3"/><text class="p e" x="1922.5" y="1063.8">A(1)</text>
</g>
<g id="node-vector3-normal">
<rect class="hd" x="1996" y="951" width="104" height="31"/><rect class="ic" x="1996" y="982" width="46" height="71"/><rect class="oc" x="2042" y="982" width="58" height="71"/>
<text class="t" x="2003" y="970.5">Vector 3</text>
<use href="#fc" x="2006" y="997.3"/><text class="p" x="2016" y="1000.8">X(1)</text>
<use href="#fc" x="2006" y="1018.3"/><text class="p" x="2016" y="1021.8">Y(1)</text>
<use href="#fc" x="2006" y="1039.3"/><text class="p" x="2016" y="1042.8">Z(1)</text>
<use href="#fy" x="2089.6" y="997.3"/><text class="p e" x="2078.6" y="1000.8">Out(3)</text>
</g>
</svg>
